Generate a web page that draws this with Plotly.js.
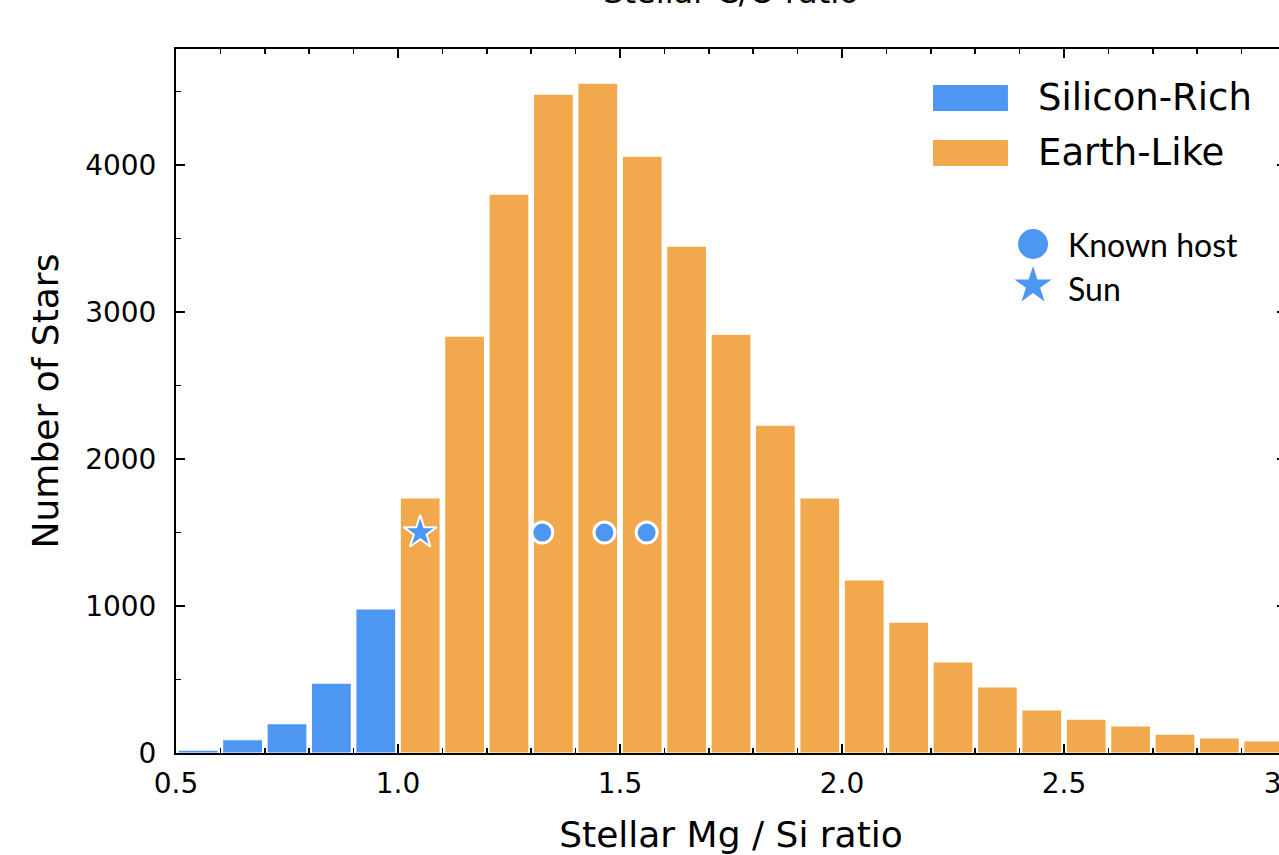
<!DOCTYPE html>
<html>
<head>
<meta charset="utf-8">
<script src="https://cdn.plot.ly/plotly-3.0.1.min.js"></script>
<style>html,body{margin:0;padding:0;overflow:hidden;background:#fff;}#chart{width:1330px;height:855px;}</style>
</head>
<body>
<div id="chart"></div>
<script>
// Histogram bins (centers) and counts
var siliconRichX = [0.55, 0.65, 0.75, 0.85, 0.95];
var siliconRichN = [20, 90, 200, 476, 980];
var earthLikeX = [1.05, 1.15, 1.25, 1.35, 1.45, 1.55, 1.65, 1.75, 1.85, 1.95,
                  2.05, 2.15, 2.25, 2.35, 2.45, 2.55, 2.65, 2.75, 2.85, 2.95];
var earthLikeN = [1735, 2837, 3803, 4483, 4558, 4061, 3449, 2850, 2231, 1735,
                  1177, 891, 619, 449, 293, 231, 184, 129, 102, 82];
// Known planet hosts and the Sun
var hostX = [1.325, 1.465, 1.56];
var hostY = [1500, 1500, 1500];
var sunX = [1.05];
var sunY = [1500];
// Legend labels
var legendBars = ["Silicon-Rich", "Earth-Like"];
var legendMarks = ["Known host", "Sun"];
var xTicks = [0.5, 1.0, 1.5, 2.0, 2.5, 3.0];
var xTickText = ["0.5", "1.0", "1.5", "2.0", "2.5", "3.0"];
var yTicks = [0, 1000, 2000, 3000, 4000];

var BLUE = "#4D96F1";
var ORANGE = "#F2A94E";

var traces = [
  {type: "bar", x: siliconRichX, y: siliconRichN, width: 0.09, name: legendBars[0],
   marker: {color: BLUE, line: {color: "#ffffff", width: 1.2}}, showlegend: false, hoverinfo: "x+y"},
  {type: "bar", x: earthLikeX, y: earthLikeN, width: 0.09, name: legendBars[1],
   marker: {color: ORANGE, line: {color: "#ffffff", width: 1.2}}, showlegend: false, hoverinfo: "x+y"},
  {type: "scatter", mode: "markers", x: hostX, y: hostY, name: legendMarks[0], showlegend: false,
   marker: {symbol: "circle", size: 21, color: BLUE, line: {color: "#ffffff", width: 3}}, cliponaxis: false},
  {type: "scatter", mode: "markers", x: sunX, y: sunY, name: legendMarks[1], showlegend: false,
   marker: {symbol: "star", size: 25, color: BLUE, line: {color: "#ffffff", width: 2}}, cliponaxis: false},
  // legend symbols on an overlay (paper-like) axis
  {type: "scatter", mode: "markers", xaxis: "x2", yaxis: "y2", x: [0.7721], y: [0.7230], showlegend: false,
   hoverinfo: "skip", marker: {symbol: "circle", size: 30, color: BLUE, line: {width: 0}}, cliponaxis: false},
  {type: "scatter", mode: "markers", xaxis: "x2", yaxis: "y2", x: [0.7721], y: [0.6640], showlegend: false,
   hoverinfo: "skip", marker: {symbol: "star", size: 28, color: BLUE, line: {width: 0}}, cliponaxis: false}
];

var axisFont = {family: "DejaVu Sans", size: 28, color: "#000"};

var layout = {
  width: 1330, height: 855,
  margin: {l: 176, r: 44, t: 49, b: 102, pad: 0},
  paper_bgcolor: "#fff", plot_bgcolor: "#fff",
  barmode: "overlay",
  showlegend: false,
  title: {text: "Stellar C/O ratio", font: {family: "DejaVu Sans", size: 32, color: "#000"},
          x: 0.5496, xanchor: "center", yref: "container", y: 0.996, yanchor: "bottom"},
  xaxis: {
    range: [0.5, 3.0], tickvals: xTicks, ticktext: xTickText,
    ticks: "inside", ticklen: 9, tickwidth: 2, tickcolor: "#000",
    minor: {dtick: 0.1, tick0: 0.5, ticks: "inside", ticklen: 5, tickwidth: 1.5, tickcolor: "#000"},
    showline: true, linecolor: "#000", linewidth: 2, mirror: "ticks",
    showgrid: false, zeroline: false, tickfont: axisFont, ticklabelstandoff: 4,
    title: {text: "Stellar Mg / Si ratio", font: {family: "DejaVu Sans", size: 36, color: "#000"}, standoff: 36}
  },
  yaxis: {
    range: [0, 4790], tickvals: yTicks,
    ticks: "inside", ticklen: 9, tickwidth: 2, tickcolor: "#000",
    minor: {dtick: 500, tick0: 0, ticks: "inside", ticklen: 5, tickwidth: 1.5, tickcolor: "#000"},
    showline: true, linecolor: "#000", linewidth: 2, mirror: "ticks",
    showgrid: false, zeroline: false, tickfont: axisFont, ticklabelstandoff: 12,
    title: {text: "Number of Stars", font: {family: "DejaVu Sans", size: 36, color: "#000"}, standoff: 16}
  },
  xaxis2: {domain: [0, 1], range: [0, 1], overlaying: "x", visible: false, fixedrange: true},
  yaxis2: {domain: [0, 1], range: [0, 1], overlaying: "y", visible: false, fixedrange: true},
  shapes: [
    {type: "rect", xref: "paper", yref: "paper", x0: 0.6820, x1: 0.7495, y0: 0.9119, y1: 0.9489,
     fillcolor: BLUE, line: {width: 0}},
    {type: "rect", xref: "paper", yref: "paper", x0: 0.6820, x1: 0.7495, y0: 0.8338, y1: 0.8707,
     fillcolor: ORANGE, line: {width: 0}}
  ],
  annotations: [
    {xref: "paper", yref: "paper", x: 0.7748, y: 0.9304, xanchor: "left", yanchor: "middle", showarrow: false,
     text: legendBars[0], font: {family: "DejaVu Sans", size: 37, color: "#000"}},
    {xref: "paper", yref: "paper", x: 0.7748, y: 0.8523, xanchor: "left", yanchor: "middle", showarrow: false,
     text: legendBars[1], font: {family: "DejaVu Sans", size: 37, color: "#000"}},
    {xref: "paper", yref: "paper", x: 0.8018, y: 0.7230, xanchor: "left", yanchor: "middle", showarrow: false,
     text: legendMarks[0], font: {family: "Lato", size: 32, color: "#000"}},
    {xref: "paper", yref: "paper", x: 0.8018, y: 0.6605, xanchor: "left", yanchor: "middle", showarrow: false,
     text: legendMarks[1], font: {family: "Lato", size: 32, color: "#000"}}
  ]
};

Plotly.newPlot("chart", traces, layout, {displayModeBar: false, staticPlot: true});
</script>
</body>
</html>
